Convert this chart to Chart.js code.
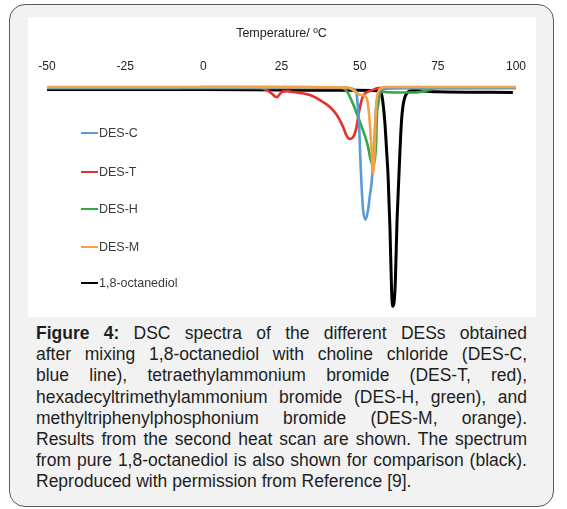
<!DOCTYPE html>
<html>
<head>
<meta charset="utf-8">
<script src="https://cdn.jsdelivr.net/npm/chart.js@4.4.1/dist/chart.umd.min.js"></script>
<style>
  html, body { margin: 0; padding: 0; background: #ffffff; }
  body { width: 567px; height: 509px; position: relative; overflow: hidden; font-family: "Liberation Sans", Arial, sans-serif; }
  #frame { position: absolute; left: 9px; top: 4px; width: 543px; height: 501px; border: 1.5px solid #5a5a5a; border-radius: 16px; background: #f2f2f2; }
  #plot { position: absolute; left: 28px; top: 17px; width: 508px; height: 300px; background: #ffffff; }
  #caption { position: absolute; left: 36px; top: 323px; width: 491px; font-size: 17.5px; line-height: 21.2px; color: #1e1e1e; }
  #caption .ln { text-align: justify; text-align-last: justify; white-space: nowrap; }
  #caption .last { text-align: left; text-align-last: left; }
</style>
</head>
<body>
<div id="frame"></div>
<div id="plot"><canvas id="c"></canvas></div>
<div id="caption">
  <div class="ln"><b>Figure 4:</b> DSC spectra of the different DESs obtained</div>
  <div class="ln">after mixing 1,8-octanediol with choline chloride (DES-C,</div>
  <div class="ln">blue line), tetraethylammonium bromide (DES-T, red),</div>
  <div class="ln">hexadecyltrimethylammonium bromide (DES-H, green), and</div>
  <div class="ln">methyltriphenylphosphonium bromide (DES-M, orange).</div>
  <div class="ln">Results from the second heat scan are shown. The spectrum</div>
  <div class="ln">from pure 1,8-octanediol is also shown for comparison (black).</div>
  <div class="ln last">Reproduced with permission from Reference [9].</div>
</div>
<script>
// ---- data (temperature in °C, heat flow in arbitrary units, endo down) ----
const seriesNames = ["DES-C", "DES-T", "DES-H", "DES-M", "1,8-octanediol"];
const seriesColors = ["#5b9bd5", "#e8302a", "#34a744", "#f5a244", "#000000"];
const drawOrder = [1, 3, 2, 0, 4]; // lower = drawn on top

const blueT = [-50, 0, 46, 48.5, 49.1, 49.5, 49.9, 50.1, 50.4, 50.7, 51.1, 51.9, 52.7, 53.3, 53.8, 54.55, 55.0, 55.5, 56.2, 57.1, 70, 100];
const blueY = [0, 0, 0, -0.09, -0.36, -1.0, -1.9, -2.82, -3.8, -4.7, -5.55, -6.0, -5.55, -4.86, -4.32, -2.82, -1.45, -0.55, -0.18, -0.05, 0, 0];

const redT = [-50, 0, 18, 21.3, 23.5, 25.1, 27, 28.7, 34.1, 37.3, 40.5, 42.7, 44.7, 45.8, 46.9, 47.9, 49.0, 49.5, 50.1, 51.1, 52.2, 54, 56, 100];
const redY = [0, 0, 0, -0.18, -0.42, -0.18, -0.14, -0.18, -0.32, -0.55, -0.86, -1.23, -1.77, -2.17, -2.32, -2.24, -1.77, -1.32, -0.86, -0.35, -0.2, -0.1, 0, 0];

const greenT = [-50, -10, 0, 30, 44, 45.8, 47.9, 49.5, 51.1, 52.7, 53.3, 53.8, 54.15, 54.9, 55.3, 55.5, 55.93, 56.5, 57.0, 58.1, 62, 68, 72, 75, 100];
const greenY = [0, 0, 0.05, 0.05, 0.02, -0.12, -0.73, -1.32, -1.94, -2.68, -3.14, -3.4, -3.55, -3.2, -2.36, -1.32, -0.73, -0.27, -0.14, -0.18, -0.2, -0.2, -0.1, 0, 0.02];

const orangeT = [-50, 0, 46, 48, 50, 51.5, 52.5, 53.2, 53.8, 54.3, 54.8, 55.1, 55.5, 56.0, 57, 58, 100];
const orangeY = [0.05, 0.05, 0.03, -0.1, -0.3, -0.35, -0.6, -1.5, -2.8, -3.9, -2.8, -1.4, -0.5, -0.15, 0, 0.05, 0.05];

const blackT = [-50, -25, 0, 25, 45, 54, 56.2, 57.0, 57.5, 58.1, 58.6, 59.1, 59.7, 60.2, 60.55, 61.3, 62.0, 62.9, 63.4, 63.9, 64.5, 65.5, 66.7, 75, 99];
const blackY = [-0.06, -0.07, -0.07, -0.09, -0.1, -0.11, -0.12, -0.27, -0.73, -1.64, -2.82, -4.05, -6.45, -9.18, -9.95, -9.18, -5.86, -2.82, -1.45, -0.77, -0.40, -0.17, -0.11, -0.17, -0.2];

const xTicks = [-50, -25, 0, 25, 50, 75, 100];
const xTitle = "Temperature/ \u00baC";

// ---- build ----
const pairs = [[blueT, blueY], [redT, redY], [greenT, greenY], [orangeT, orangeY], [blackT, blackY]];
const datasets = pairs.map((p, i) => ({
  label: seriesNames[i],
  data: p[0].map((t, k) => ({ x: t, y: p[1][k] })),
  borderColor: seriesColors[i],
  backgroundColor: seriesColors[i],
  borderWidth: i === 4 ? 3 : 2.6,
  pointRadius: 0,
  fill: false,
  order: drawOrder[i],
  cubicInterpolationMode: 'monotone',
  clip: false
}));

const FONT = '"Liberation Sans", Arial, sans-serif';

const sideLegend = {
  id: 'sideLegend',
  afterDraw(chart) {
    const ctx = chart.ctx;
    const x0 = 53, x1 = 70, tx = 71;
    const ys = [116, 155, 192, 230, 266];
    ctx.save();
    ctx.font = '12.5px ' + FONT;
    ctx.textBaseline = 'middle';
    ctx.textAlign = 'left';
    chart.data.datasets.forEach((ds, i) => {
      ctx.strokeStyle = ds.borderColor;
      ctx.lineWidth = 2;
      ctx.beginPath();
      ctx.moveTo(x0, ys[i]);
      ctx.lineTo(x1, ys[i]);
      ctx.stroke();
      ctx.fillStyle = '#3a3a3a';
      ctx.fillText(ds.label, tx, ys[i] + 0.5);
    });
    ctx.restore();
  }
};

new Chart(document.getElementById('c'), {
  type: 'line',
  data: { datasets },
  options: {
    responsive: true,
    maintainAspectRatio: false,
    animation: false,
    layout: { padding: { left: 19, right: 20, top: 0, bottom: 3 } },
    plugins: { legend: { display: false }, tooltip: { enabled: false } },
    scales: {
      x: {
        type: 'linear',
        position: 'top',
        min: -50, max: 100,
        afterBuildTicks(scale) { scale.ticks = xTicks.map(v => ({ value: v })); },
        afterFit(scale) { scale.height = 59; },
        ticks: { color: '#222222', font: { family: FONT, size: 12 }, padding: 2, maxRotation: 0 },
        grid: { display: false, drawTicks: false },
        border: { display: false },
        title: { display: true, text: xTitle, color: '#222222', font: { family: FONT, size: 12.5 }, padding: { top: 9, bottom: 0 } }
      },
      y: {
        type: 'linear',
        display: false,
        min: -10.3, max: 0.55
      }
    }
  },
  plugins: [sideLegend]
});
</script>
</body>
</html>
